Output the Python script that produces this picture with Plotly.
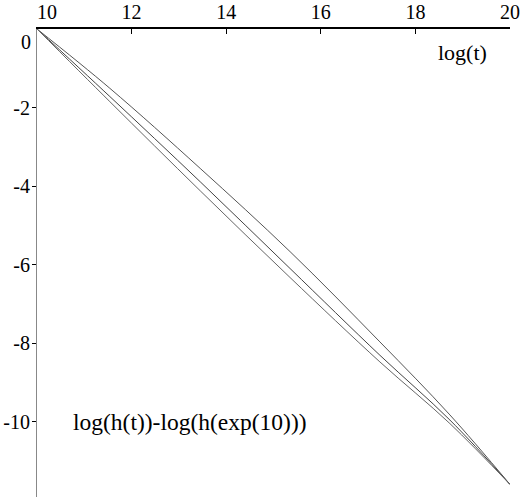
import plotly.graph_objects as go

# Data
x_vals = [10, 11.54, 13.45, 15.35, 17.25, 18.73, 20]
curve_top = [0, -1.51, -3.55, -5.67, -7.97, -9.83, -11.6]
curve_mid = [0, -1.72, -3.89, -6.10, -8.31, -9.96, -11.6]
curve_bot = [0, -1.85, -4.12, -6.33, -8.48, -10.05, -11.6]

x_ticks = [12, 14, 16, 18, 20]
y_ticks = [-10, -8, -6, -4, -2]

FONT = "Liberation Serif, Times New Roman, serif"
TICK_SIZE = 20

fig = go.Figure()
for ys, col in [(curve_top, "#555555"), (curve_mid, "#444444"), (curve_bot, "#666666")]:
    fig.add_trace(go.Scatter(x=x_vals, y=ys, mode="lines",
                             line=dict(color=col, width=1, shape="spline", smoothing=1.0),
                             showlegend=False, hoverinfo="skip"))

fig.update_layout(
    width=520, height=497,
    margin=dict(l=37, r=10, t=29, b=0),
    paper_bgcolor="white", plot_bgcolor="white",
    font=dict(family=FONT, size=TICK_SIZE, color="black"),
    xaxis=dict(range=[10, 20], side="top", tickvals=x_ticks,
               ticktext=[str(v) for v in x_ticks],
               ticks="inside", ticklen=5, tickcolor="black", tickwidth=1,
               showline=True, linecolor="black", linewidth=1.5,
               showgrid=False, zeroline=False, mirror=False,
               tickfont=dict(family=FONT, size=TICK_SIZE, color="black")),
    yaxis=dict(range=[-11.92, 0], tickvals=y_ticks,
               ticktext=[str(v) for v in y_ticks],
               ticks="outside", ticklen=4, tickcolor="black", tickwidth=1,
               ticklabelstandoff=-2,
               showline=True, linecolor="#888888", linewidth=1,
               showgrid=False, zeroline=False,
               tickfont=dict(family=FONT, size=TICK_SIZE, color="black")),
    annotations=[
        dict(x=10, y=-0.33, xref="x", yref="y", text="0", showarrow=False,
             xanchor="right", xshift=-4, font=dict(family=FONT, size=TICK_SIZE)),
        dict(x=10, y=1, xref="x", yref="paper", text="10", showarrow=False,
             xanchor="center", yanchor="bottom", xshift=10, yshift=4,
             font=dict(family=FONT, size=TICK_SIZE)),
        dict(x=19.0, y=-0.61, xref="x", yref="y", text="log(t)", showarrow=False,
             font=dict(family=FONT, size=22)),
        dict(x=13.23, y=-10, xref="x", yref="y", text="log(h(t))-log(h(exp(10)))",
             showarrow=False, font=dict(family=FONT, size=23.5)),
    ],
)

fig.write_html("out.html")
